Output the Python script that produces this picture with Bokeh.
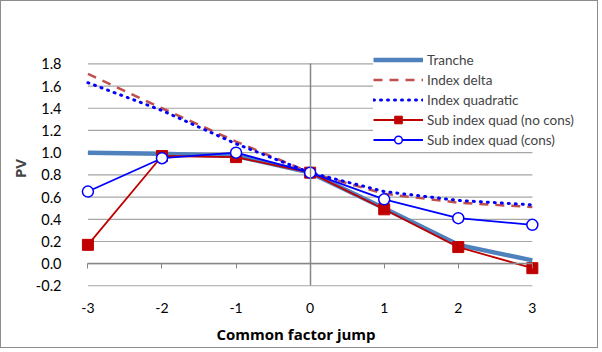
from bokeh.plotting import figure
from bokeh.models import (Range1d, LinearAxis, FixedTicker, NumeralTickFormatter,
                          Legend, LegendItem, Title)
from bokeh.embed import file_html
from bokeh.resources import INLINE

# ---- data ----
x_jump = [-3, -2, -1, 0, 1, 2, 3]
tranche = [1.00, 0.99, 0.97, 0.82, 0.50, 0.17, 0.03]
index_delta = [1.71, 1.40, 1.10, 0.82, 0.63, 0.55, 0.51]
index_quad = [1.63, 1.38, 1.08, 0.82, 0.65, 0.57, 0.53]
sub_no_cons = [0.17, 0.97, 0.96, 0.82, 0.49, 0.15, -0.04]
sub_cons = [0.65, 0.95, 1.00, 0.82, 0.58, 0.41, 0.35]
x_ticks = [-3, -2, -1, 0, 1, 2, 3]
y_ticks = [-0.2, 0.0, 0.2, 0.4, 0.6, 0.8, 1.0, 1.2, 1.4, 1.6, 1.8]

FONT = "Lato"
BOLD_FONT = "Open Sans"

p = figure(width=598, height=348, output_backend="svg", toolbar_location=None,
           x_range=Range1d(-3.1, 3.65), y_range=Range1d(-0.205, 1.92),
           x_axis_location=None, y_axis_location=None,
           min_border_left=79, min_border_right=19, min_border_top=49,
           min_border_bottom=62)
p.outline_line_color = None
p.xgrid.visible = False
p.ygrid.visible = False
p.styles = {"border": "1px solid #8c8c8c"}

# horizontal gridlines spanning the tick range -3..3
n = len(y_ticks)
p.segment(x0=[x_ticks[0]] * n, x1=[x_ticks[-1]] * n, y0=y_ticks, y1=y_ticks,
          line_color="#a6a6a6", line_width=1.2, level="underlay")

# x axis crossing at y=0 (line + ticks only)
xa0 = LinearAxis(ticker=FixedTicker(ticks=x_ticks), fixed_location=0, bounds=(-3, 3),
                 axis_line_color="#868686", axis_line_width=1.5,
                 major_tick_line_color="#868686", major_tick_in=0, major_tick_out=5,
                 minor_tick_line_color=None, major_label_text_color=None)
p.add_layout(xa0, "below")

# labelled x axis at bottom
xa = LinearAxis(ticker=FixedTicker(ticks=x_ticks), formatter=NumeralTickFormatter(format="0"),
                axis_line_color=None, major_tick_line_color=None, minor_tick_line_color=None,
                major_label_text_font=FONT, major_label_text_font_size="14px",
                major_label_text_color="black", major_label_standoff=10)
p.add_layout(xa, "below")
p.add_layout(Title(text="Common factor jump", align="left", offset=136,
                   text_font=BOLD_FONT, text_font_size="15px", text_font_style="bold",
                   text_color="black", standoff=12), "below")

# y axis line at x=0
ya0 = LinearAxis(ticker=FixedTicker(ticks=y_ticks), fixed_location=0, bounds=(-0.2, 1.8),
                 axis_line_color="#868686", axis_line_width=1.5,
                 major_tick_line_color=None, minor_tick_line_color=None,
                 major_label_text_color=None)
p.add_layout(ya0, "left")

# labelled y axis
ya = LinearAxis(ticker=FixedTicker(ticks=y_ticks), formatter=NumeralTickFormatter(format="0.0"),
                axis_line_color=None, major_tick_line_color=None, minor_tick_line_color=None,
                major_label_text_font=FONT, major_label_text_font_size="14.5px",
                major_label_text_color="black", major_label_standoff=13,
                axis_label="PV", axis_label_text_font=BOLD_FONT,
                axis_label_text_font_size="15px", axis_label_text_font_style="bold",
                axis_label_standoff=3)
p.add_layout(ya, "left")

r_tr = p.line(x_jump, tranche, line_color="#4F81BD", line_width=4.5)
r_del = p.line(x_jump, index_delta, line_color="#C0504D", line_width=2.5, line_dash="9 7")
r_quad = p.line(x_jump, index_quad, line_color="#0000FF", line_width=3, line_dash="1 6",
                line_cap="round")
r_nc_l = p.line(x_jump, sub_no_cons, line_color="#C00000", line_width=1.8)
r_nc_m = p.scatter(x_jump, sub_no_cons, marker="square", size=11, fill_color="#C00000",
                   line_color="#C00000")
r_c_l = p.line(x_jump, sub_cons, line_color="#0000FF", line_width=1.8)
r_c_m = p.scatter(x_jump, sub_cons, marker="circle", size=11, fill_color="white",
                  line_color="#0000FF", line_width=1.5)

legend = Legend(items=[
    LegendItem(label="Tranche", renderers=[r_tr]),
    LegendItem(label="Index delta", renderers=[r_del]),
    LegendItem(label="Index quadratic", renderers=[r_quad]),
    LegendItem(label="Sub index quad (no cons)", renderers=[r_nc_l, r_nc_m]),
    LegendItem(label="Sub index quad (cons)", renderers=[r_c_l, r_c_m]),
], location=(293, 137), background_fill_color="white", background_fill_alpha=1.0,
    border_line_color=None, label_text_font=FONT, label_text_font_size="13.5px",
    glyph_width=50, glyph_height=19, label_height=19, spacing=1, padding=0, margin=0,
    label_standoff=4)
p.add_layout(legend)

open("out.html", "w").write(file_html(p, INLINE))
